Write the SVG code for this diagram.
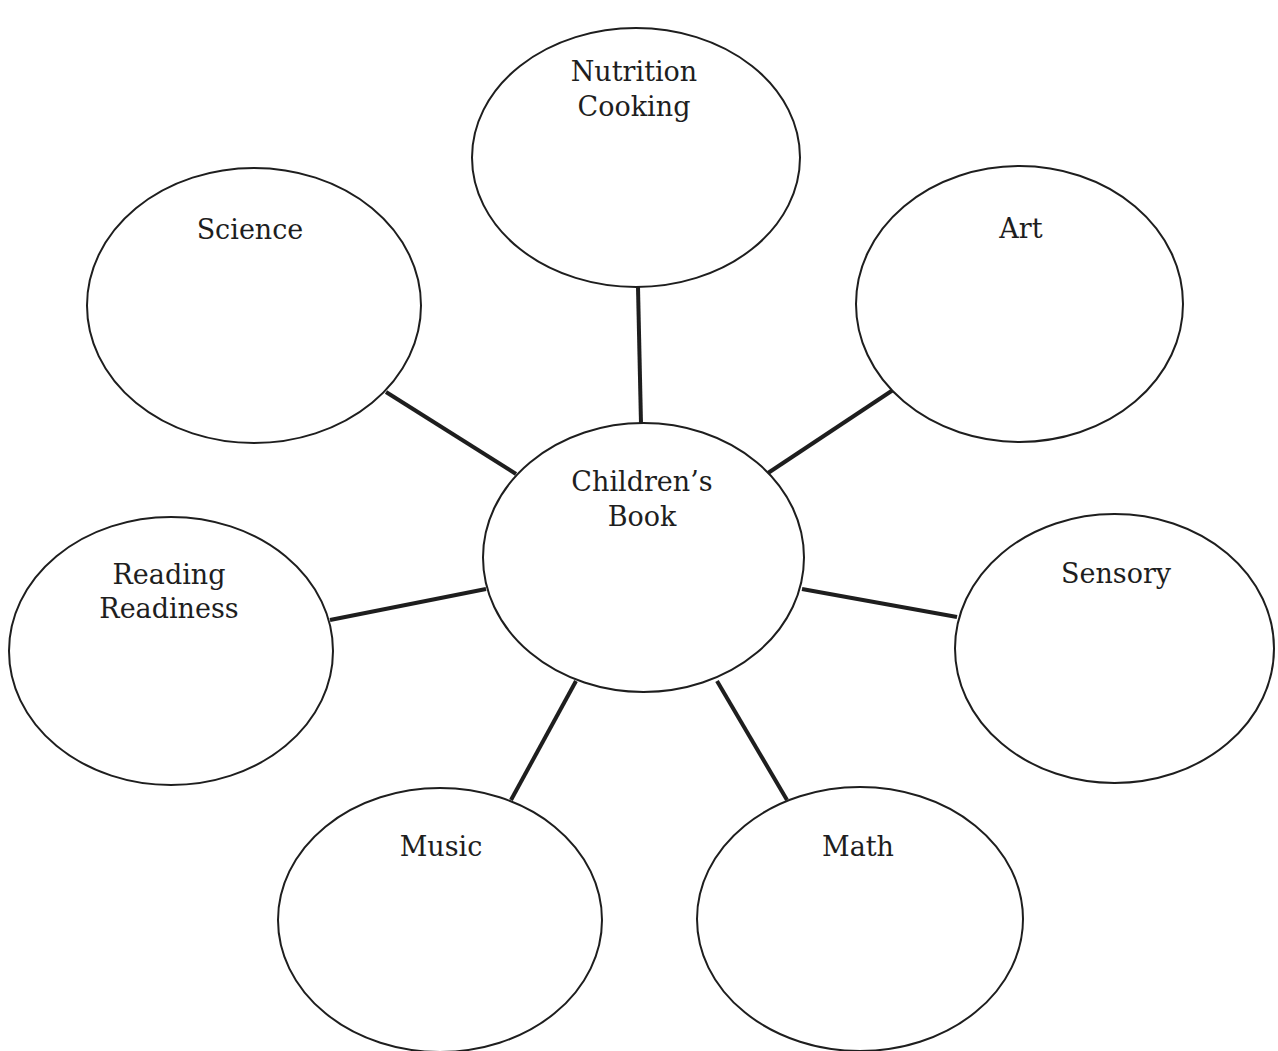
<svg xmlns="http://www.w3.org/2000/svg" width="1278" height="1051" viewBox="0 0 1278 1051">
<style>
  .bg { fill: #ffffff; }
  .node ellipse { fill: #ffffff; stroke: #1e1e1e; stroke-width: 2; }
  .node text { font-family: "DejaVu Serif", "Liberation Serif", serif; font-size: 27px; fill: #1e1e1e; text-anchor: middle; }
  .connectors line { stroke: #1e1e1e; stroke-width: 4; stroke-linecap: butt; }
</style>
<rect class="bg" x="0" y="0" width="1278" height="1051"/>
<g class="connectors">
  <line x1="638" y1="287" x2="641" y2="424"/>
  <line x1="386" y1="392" x2="516" y2="474"/>
  <line x1="893" y1="390" x2="768" y2="473"/>
  <line x1="330" y1="620" x2="486" y2="589"/>
  <line x1="802" y1="589" x2="957" y2="617"/>
  <line x1="511" y1="800" x2="576" y2="681"/>
  <line x1="717" y1="681" x2="787" y2="800"/>
</g>
<g id="node-nutrition" class="node">
  <ellipse cx="636" cy="157.5" rx="164" ry="129.5"/>
  <text x="634" y="81">Nutrition</text>
  <text x="634" y="116">Cooking</text>
</g>
<g id="node-science" class="node">
  <ellipse cx="254" cy="305.5" rx="167" ry="137.5"/>
  <text x="250" y="239">Science</text>
</g>
<g id="node-art" class="node">
  <ellipse cx="1019.5" cy="304" rx="163.5" ry="138"/>
  <text x="1021" y="238">Art</text>
</g>
<g id="node-center" class="node">
  <ellipse cx="643.5" cy="557.5" rx="160.5" ry="134.5"/>
  <text x="642" y="491">Children’s</text>
  <text x="642" y="526">Book</text>
</g>
<g id="node-reading" class="node">
  <ellipse cx="171" cy="651" rx="162" ry="134"/>
  <text x="169" y="584">Reading</text>
  <text x="169" y="618">Readiness</text>
</g>
<g id="node-sensory" class="node">
  <ellipse cx="1114.5" cy="648.5" rx="159.5" ry="134.5"/>
  <text x="1116" y="583">Sensory</text>
</g>
<g id="node-music" class="node">
  <ellipse cx="440" cy="920" rx="162" ry="132"/>
  <text x="441" y="856">Music</text>
</g>
<g id="node-math" class="node">
  <ellipse cx="860" cy="919" rx="163" ry="132"/>
  <text x="858" y="856">Math</text>
</g>
</svg>
